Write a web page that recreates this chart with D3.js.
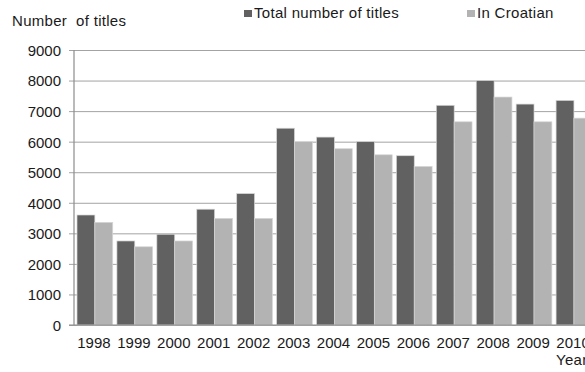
<!DOCTYPE html>
<html>
<head>
<meta charset="utf-8">
<script src="https://cdn.jsdelivr.net/npm/d3@7"></script>
<style>
  html, body { margin: 0; padding: 0; background: #fff; overflow: hidden; }
  svg { display: block; }
  text { font-family: "Liberation Sans", Arial, sans-serif; fill: #1a1a1a; }
</style>
</head>
<body>
<div id="chart"></div>
<script>
// Published book titles per year
const years = ["1998", "1999", "2000", "2001", "2002", "2003", "2004",
               "2005", "2006", "2007", "2008", "2009", "2010"];
const totalTitles = [3600, 2750, 2970, 3790, 4300, 6440, 6150,
                     6000, 5540, 7190, 8000, 7230, 7350];
const croatianTitles = [3360, 2560, 2750, 3490, 3490, 6000, 5770,
                        5570, 5190, 6650, 7460, 6650, 6770];
const seriesNames = ["Total number of titles", "In Croatian"];
const yTicks = [0, 1000, 2000, 3000, 4000, 5000, 6000, 7000, 8000, 9000];

const W = 585, H = 372;
const margin = { left: 74, top: 50, bottom: 47 };
const plotW = 519;
const plotH = H - margin.top - margin.bottom;
const colors = ["#616161", "#b3b3b3"];
const fontSize = "15px";

const svg = d3.select("#chart").append("svg")
  .attr("width", W).attr("height", H);

const x0 = d3.scaleBand().domain(years).range([0, plotW]).padding(0);
const x1 = d3.scaleBand().domain(seriesNames)
  .range([3, x0.bandwidth() - 1.2]).padding(0);
const y = d3.scaleLinear().domain([0, 9000]).range([plotH, 0]);

const g = svg.append("g").attr("transform", `translate(${margin.left},${margin.top})`);

// horizontal gridlines with short outer ticks
const yAxis = d3.axisLeft(y).tickValues(yTicks).tickSize(-plotW - 5).tickPadding(8)
  .tickFormat(d3.format("d"));
const yg = g.append("g").attr("transform", "translate(-5,0)").call(yAxis);
yg.select(".domain").remove();
yg.selectAll(".tick line").attr("stroke", "#a3a3a3").attr("stroke-width", 1);
yg.selectAll(".tick text").style("font-size", fontSize).attr("dy", "0.36em");

// bars
const rows = years.map((yr, i) => ({ year: yr, values: [totalTitles[i], croatianTitles[i]] }));
const groups = g.selectAll("g.year").data(rows).join("g")
  .attr("class", "year")
  .attr("transform", d => `translate(${x0(d.year)},0)`);
groups.selectAll("rect").data(d => d.values.map((v, k) => ({ k, v }))).join("rect")
  .attr("x", d => x1(seriesNames[d.k]))
  .attr("width", x1.bandwidth())
  .attr("y", d => y(d.v))
  .attr("height", d => plotH - y(d.v))
  .attr("fill", d => colors[d.k])
  .attr("stroke", "#d6d6d6")
  .attr("stroke-width", 0.7);

// axis lines
g.append("line").attr("x1", 0).attr("x2", 0).attr("y1", 0).attr("y2", plotH)
  .attr("stroke", "#8c8c8c").attr("stroke-width", 1.2);
g.append("line").attr("x1", -5).attr("x2", plotW).attr("y1", plotH).attr("y2", plotH)
  .attr("stroke", "#8c8c8c").attr("stroke-width", 1.2);

// year labels
const xAxis = d3.axisBottom(x0).tickSize(0).tickPadding(12);
const xg = g.append("g").attr("transform", `translate(0,${plotH})`).call(xAxis);
xg.select(".domain").remove();
xg.selectAll(".tick text").style("font-size", fontSize);

// axis titles
svg.append("text").attr("x", 12).attr("y", 26).style("font-size", fontSize)
  .style("white-space", "pre").style("letter-spacing", "0.3px")
  .text("Number  of titles");
svg.append("text").attr("x", 556).attr("y", 365).style("font-size", fontSize)
  .style("letter-spacing", "0.3px")
  .text("Year");

// legend
const legendX = [244, 467];
seriesNames.forEach((name, k) => {
  const lg = svg.append("g").attr("transform", `translate(${legendX[k]},0)`);
  lg.append("rect").attr("x", 0).attr("y", 10).attr("width", 8).attr("height", 7)
    .attr("fill", colors[k]);
  lg.append("text").attr("x", 10).attr("y", 18).style("font-size", fontSize)
    .style("letter-spacing", "0.3px")
    .text(name);
});
</script>
</body>
</html>
